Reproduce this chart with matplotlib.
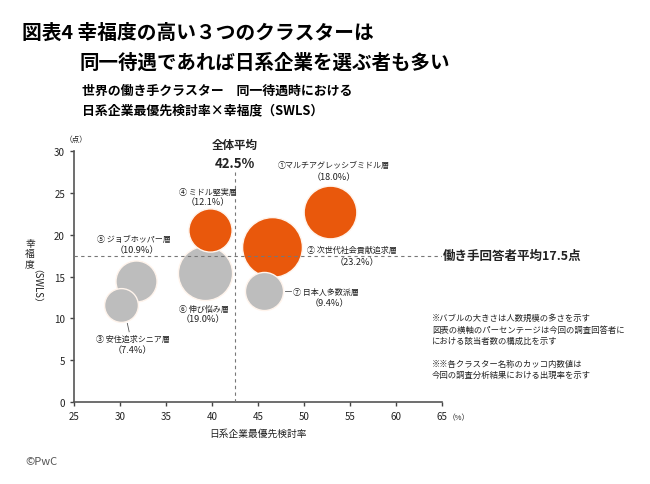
import matplotlib.pyplot as plt

plt.rcParams['font.family'] = ['Noto Sans CJK JP', 'DejaVu Sans']

# クラスター データ
names = ['①マルチアグレッシブミドル層', '② 次世代社会貢献追求層', '③ 安住追求シニア層',
         '④ ミドル堅実層', '⑤ ジョブホッパー層', '⑥ 伸び悩み層', '⑦ 日本人多数派層']
share = [18.0, 23.2, 7.4, 12.1, 10.9, 19.0, 9.4]          # 出現率(%)
jp_rate = [52.8, 46.5, 30.1, 39.8, 31.7, 39.2, 45.6]      # 日系企業最優先検討率
swls = [22.7, 18.5, 11.6, 20.6, 14.5, 15.4, 13.3]         # 幸福度
high = [True, True, False, True, False, False, False]

x_mean = 42.5
y_mean = 17.5

xticks = list(range(25, 70, 5))
yticks = list(range(0, 35, 5))

ORANGE = '#E9580C'
GRAY = '#BDBDBD'
TXT = '#222222'

# ラベル位置 (名前, パーセント)
name_pos = [(53.2, 28.4, 'center'), (50.3, 18.2, 'left'), (31.4, 7.6, 'center'),
            (39.5, 25.2, 'center'), (31.5, 19.5, 'center'), (39.1, 11.2, 'center'),
            (48.8, 13.2, 'left')]
pct_pos = [(53.2, 26.9), (55.8, 16.8), (31.4, 6.3), (39.5, 23.9),
           (31.8, 18.2), (39.0, 10.0), (52.8, 11.9)]

fig = plt.figure(figsize=(6.5, 4.85), dpi=100)
ax = fig.add_axes([0.1138, 0.169, 0.5662, 0.5175])

# 描画順: 重なり方を合わせる
order = [4, 2, 5, 3, 1, 6, 0]
for z, i in enumerate(order):
    ax.scatter(jp_rate[i], swls[i], s=share[i] * 80,
               color=ORANGE if high[i] else GRAY,
               edgecolor='#FFF4EC', linewidth=1.0, zorder=2 + z)

ax.axhline(y_mean, color='#777777', linestyle=(0, (3, 3)), linewidth=0.8, zorder=20)
ax.plot([x_mean, x_mean], [0, 27.8], color='#777777', linestyle=(0, (3, 3)),
        linewidth=0.8, zorder=20)

for i, n in enumerate(names):
    nx, ny, ha = name_pos[i]
    ax.text(nx, ny, n, ha=ha, va='center', fontsize=5.8, color=TXT, zorder=30)
    ax.text(pct_pos[i][0], pct_pos[i][1], f'（{share[i]:.1f}%）', ha='center',
            va='center', fontsize=6.6, color=TXT, zorder=30)

# 引き出し線
ax.plot([47.9, 48.6], [13.3, 13.3], color='#555555', linewidth=0.6, zorder=30)
ax.plot([30.8, 31.0], [9.4, 8.4], color='#555555', linewidth=0.6, zorder=30)

ax.text(x_mean, 30.8, '全体平均', ha='center', va='center', fontsize=8.3,
        fontweight='bold', color=TXT, clip_on=False)
ax.text(x_mean, 28.6, f'{x_mean}%', ha='center', va='center', fontsize=9.5,
        fontweight='bold', color=TXT, clip_on=False)
ax.text(65.1, y_mean, f'働き手回答者平均{y_mean}点', ha='left', va='center',
        fontsize=9, fontweight='bold', color=TXT, clip_on=False)
ax.text(25.2, 31.4, '（点）', ha='center', va='center', fontsize=5.5, color=TXT,
        clip_on=False)
ax.text(66.8, -1.8, '（%）', ha='center', va='center', fontsize=5.5, color=TXT,
        clip_on=False)

ax.set_xlim(25, 65)
ax.set_ylim(0, 30)
ax.set_xticks(xticks)
ax.set_yticks(yticks)
ax.tick_params(labelsize=7, length=3, width=1, color='#444444', labelcolor=TXT)
for s in ['top', 'right']:
    ax.spines[s].set_visible(False)
for s in ['left', 'bottom']:
    ax.spines[s].set_color('#555555')
    ax.spines[s].set_linewidth(1.2)

ax.set_xlabel('日系企業最優先検討率', fontsize=7, color=TXT, labelpad=5)

# 縦書きの軸ラベル
fig.text(30 / 650, 1 - 254 / 485, '幸\n福\n度', ha='center', va='center',
         fontsize=7, color=TXT, linespacing=1.05)
fig.text(31 / 650, 1 - 291 / 485, '（SWLS）', ha='center', va='center',
         fontsize=7, color=TXT, rotation=270)

# タイトル
fig.text(22 / 650, 1 - 33 / 485, '図表4 幸福度の高い３つのクラスターは', ha='left',
         va='center', fontsize=14.2, fontweight='bold', color='black')
fig.text(80 / 650, 1 - 63 / 485, '同一待遇であれば日系企業を選ぶ者も多い', ha='left',
         va='center', fontsize=14, fontweight='bold', color='black')
fig.text(82 / 650, 1 - 91 / 485, '世界の働き手クラスター　同一待遇時における', ha='left',
         va='center', fontsize=9.3, fontweight='bold', color='black')
fig.text(82 / 650, 1 - 110 / 485, '日系企業最優先検討率×幸福度（SWLS）', ha='left',
         va='center', fontsize=9.3, fontweight='bold', color='black')

notes = ['※バブルの大きさは人数規模の多さを示す',
         '図表の横軸のパーセンテージは今回の調査回答者に',
         'における該当者数の構成比を示す',
         '',
         '※※各クラスター名称のカッコ内数値は',
         '今回の調査分析結果における出現率を示す']
fig.text(432 / 650, 1 - 314 / 485, '\n'.join(notes), ha='left', va='top',
         fontsize=6, color=TXT, linespacing=1.35)

fig.text(25 / 650, 1 - 462 / 485, '©PwC', ha='left', va='center', fontsize=8,
         color='#555555')

fig.savefig('out.png', dpi=100)
